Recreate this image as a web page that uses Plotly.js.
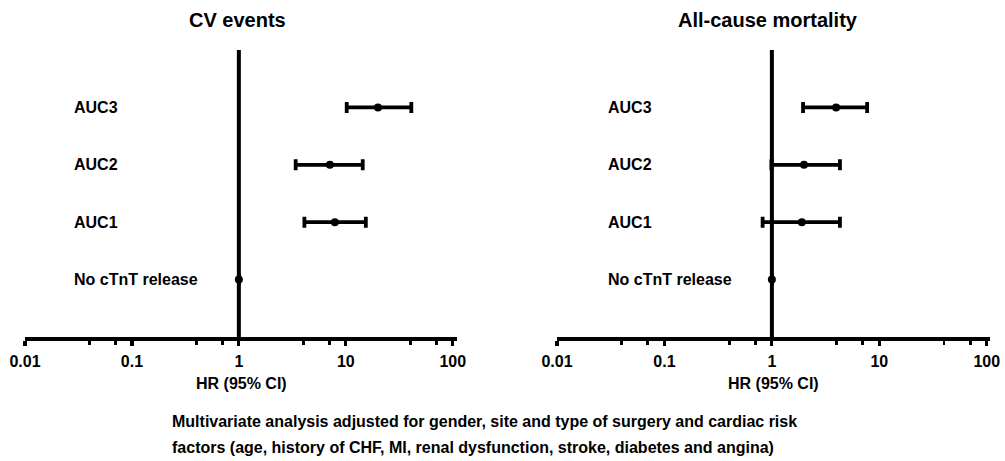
<!DOCTYPE html>
<html>
<head>
<meta charset="utf-8">
<script src="https://cdn.plot.ly/plotly-3.0.1.min.js"></script>
<style>html,body{margin:0;padding:0;background:#fff;}#chart{width:1005px;height:461px;}</style>
</head>
<body>
<div id="chart"></div>
<script>
// Data
const categories = ['No cTnT release', 'AUC1', 'AUC2', 'AUC3'];
const cvHR    = [1, 7.9, 7.1, 20];
const cvLow   = [1, 4.1, 3.4, 10.2];
const cvHigh  = [1, 15.4, 14.4, 41];
const mortHR   = [1, 1.9, 1.99, 3.96];
const mortLow  = [1, 0.82, 0.99, 1.95];
const mortHigh = [1, 4.3, 4.3, 7.7];
const panelTitles = ['CV events', 'All-cause mortality'];
const tickVals = [0.01, 0.1, 1, 10, 100];
const tickText = ['0.01', '0.1', '1', '10', '100'];
const minorTickVals = [0.04, 0.07, 0.4, 0.7, 4, 7, 40, 70];
const xTitle = 'HR (95% CI)';
const captionLines = [
  'Multivariate analysis adjusted for gender, site and type of surgery and cardiac risk',
  'factors (age, history of CHF, MI, renal dysfunction, stroke, diabetes and angina)'
];

const FONT = 'Liberation Sans, Arial, sans-serif';
const W = 1005, H = 461;
const yPos = categories.map((c, i) => i + 1);

function trace(hr, lo, hi, xa, ya) {
  return {
    type: 'scatter', mode: 'markers', x: hr, y: yPos, xaxis: xa, yaxis: ya,
    marker: {color: '#000', size: 8, symbol: 'circle'},
    error_x: {type: 'data', symmetric: false,
      array: hr.map((v, i) => hi[i] - v),
      arrayminus: hr.map((v, i) => v - lo[i]),
      color: '#000', thickness: 3.8, width: 5.5},
    showlegend: false, hoverinfo: 'x+y'
  };
}

const data = [trace(cvHR, cvLow, cvHigh, 'x', 'y'), trace(mortHR, mortLow, mortHigh, 'x2', 'y2')];

function xaxis(d0, d1, r1) {
  return {
    type: 'log', domain: [d0 / W, d1 / W], range: [-2, r1],
    showline: true, linewidth: 3.8, linecolor: '#000',
    showgrid: false, zeroline: false,
    ticks: 'outside', ticklen: 5, tickwidth: 3.2, tickcolor: '#000',
    tickmode: 'array', tickvals: tickVals, ticktext: tickText,
    ticklabelstandoff: 2,
    minor: {tickmode: 'array', tickvals: minorTickVals, ticks: 'outside', ticklen: 4, tickwidth: 2.8, tickcolor: '#000', showgrid: false},
    tickfont: {family: FONT, size: 16, color: '#000', weight: 'bold'},
    fixedrange: true
  };
}
const yTop = 50, yBot = 337;
function yaxis(anchor) {
  return {domain: [(H - yBot) / H, (H - yTop) / H], range: [0, 5], anchor: anchor,
    showline: false, showgrid: false, zeroline: false, showticklabels: false, ticks: '', fixedrange: true};
}

const panels = [{xa: 'x', ya: 'y', d0: 25, d1: 457, lblX: 72, titleX: 237},
                {xa: 'x2', ya: 'y2', d0: 557, d1: 990, lblX: 606, titleX: 768}];

const annotations = [];
const shapes = [];
panels.forEach((p, k) => {
  annotations.push({text: panelTitles[k], xref: 'paper', yref: 'paper',
    x: p.titleX / W, y: (H - 20) / H, xanchor: 'center', yanchor: 'middle', showarrow: false,
    font: {family: FONT, size: 20, color: '#000', weight: 'bold'}});
  annotations.push({text: xTitle, xref: 'paper', yref: 'paper',
    x: ((p.d0 + p.d1) / 2) / W, y: (H - 383) / H, xanchor: 'center', yanchor: 'middle', showarrow: false,
    font: {family: FONT, size: 16, color: '#000', weight: 'bold'}});
  categories.forEach((c, i) => {
    annotations.push({text: c, xref: 'paper', yref: p.ya, x: p.lblX / W, y: yPos[i],
      xanchor: 'left', yanchor: 'middle', showarrow: false,
      font: {family: FONT, size: 16, color: '#000', weight: 'bold'}});
  });
  shapes.push({type: 'line', xref: p.xa, yref: p.ya, x0: 1, x1: 1, y0: 0, y1: 5,
    line: {color: '#000', width: 4}, layer: 'below'});
});
const capY = [421, 447];
captionLines.forEach((t, i) => {
  annotations.push({text: t, xref: 'paper', yref: 'paper', x: 170 / W, y: (H - capY[i]) / H,
    xanchor: 'left', yanchor: 'middle', showarrow: false,
    font: {family: FONT, size: 16, color: '#000', weight: 'bold'}});
});

const layout = {
  width: W, height: H, margin: {l: 0, r: 0, t: 0, b: 0},
  paper_bgcolor: '#fff', plot_bgcolor: '#fff',
  xaxis: Object.assign(xaxis(25, 457, 2.04), {anchor: 'y'}),
  yaxis: yaxis('x'),
  xaxis2: Object.assign(xaxis(557, 990, 2.03), {anchor: 'y2'}),
  yaxis2: yaxis('x2'),
  annotations: annotations, shapes: shapes, showlegend: false
};
Plotly.newPlot('chart', data, layout, {displayModeBar: false, staticPlot: true});
</script>
</body>
</html>
